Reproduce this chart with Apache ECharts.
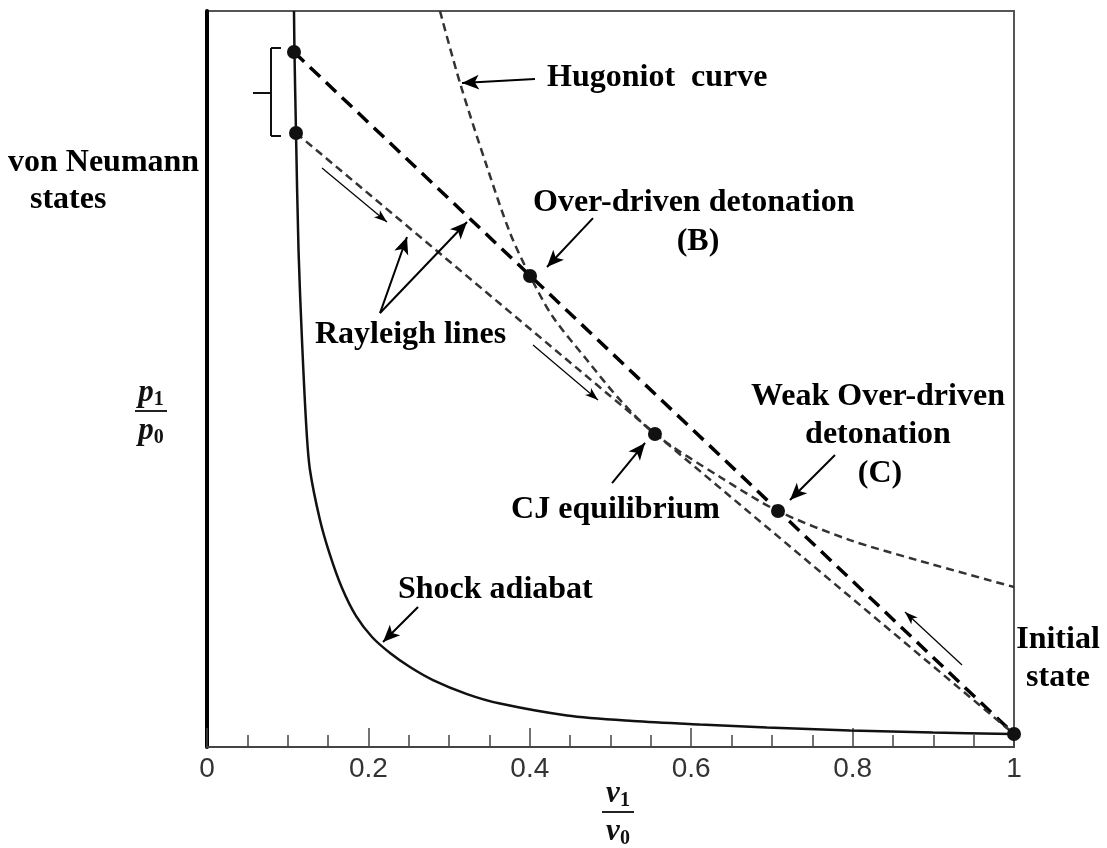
<!DOCTYPE html>
<html>
<head>
<meta charset="utf-8">
<script src="https://cdn.jsdelivr.net/npm/echarts@6/dist/echarts.min.js"></script>
<style>
html,body{margin:0;padding:0;background:#fff;}
#c{width:1107px;height:848px;}
</style>
</head>
<body>
<div id="c"></div>
<script>
// ---- data (v1/v0, p1/p0) ----
const xTickValues = [0, 0.2, 0.4, 0.6, 0.8, 1];
const shockAdiabat = [
  [0.1078,52.0],[0.1084,49.10],[0.1103,43.38],[0.1134,35.11],[0.1177,28.76],
  [0.1233,22.40],[0.1276,19.57],[0.1400,16.04],[0.1524,13.57],[0.1673,11.23],
  [0.1846,9.26],[0.2045,7.77],[0.2268,6.64],[0.2515,5.65],[0.2800,4.73],
  [0.3222,3.74],[0.3631,3.07],[0.4461,2.23],[0.5279,1.84],[0.6109,1.59],
  [0.6939,1.38],[0.7968,1.17],[0.8996,1.02],[0.9975,0.92]
];
const hugoniotCurve = [
  [0.2887,52.0],[0.3135,46.91],[0.3470,40.98],[0.3755,36.32],[0.4003,33.28],
  [0.4287,30.38],[0.4709,27.34],[0.5118,24.52],[0.5551,22.11],[0.6357,19.08],
  [0.7076,16.67],[0.7968,14.62],[0.8798,13.21],[1.0,11.30]
];
const vonNeumannHigh = [0.1078, 49.10];
const vonNeumannLow  = [0.1103, 43.38];
const overDrivenB    = [0.4003, 33.28];
const cjPoint        = [0.5551, 22.11];
const weakC          = [0.7076, 16.67];
const initialState   = [1.0, 0.92];
const rayleighStrong = [vonNeumannHigh, initialState];
const rayleighCJ     = [vonNeumannLow, initialState];
const statePoints = [vonNeumannHigh, vonNeumannLow, overDrivenB, cjPoint, weakC, initialState];

// annotation arrows [tail, head] in data units
const boldArrows = [
  [[-0.0186,42.04],[0.0508,45.85]],
  [[0.4064,47.19],[0.3160,46.91]],
  [[0.4783,37.37],[0.4213,33.91]],
  [[0.2144,30.66],[0.2478,36.03]],
  [[0.2144,30.66],[0.3222,37.09]],
  [[0.5019,18.65],[0.5428,21.48]],
  [[0.7782,20.63],[0.7224,17.45]],
  [[0.2615,9.89],[0.2181,7.42]],
  [[1.0545,3.82],[1.0112,1.34]]
];
const flowArrows = [
  [[0.1425,40.91],[0.2230,37.09]],
  [[0.4040,28.40],[0.4845,24.52]],
  [[0.9356,5.79],[0.8649,9.54]]
];
const bracketSegments = [
  [[0.0917,49.39],[0.0793,49.39]],
  [[0.0793,49.39],[0.0793,43.17]],
  [[0.0793,43.17],[0.0917,43.17]],
  [[0.0570,46.21],[0.0793,46.21]]
];

const labelFont = 'bold 32px "Liberation Serif", "Times New Roman", serif';
const annotations = [
  {t:'Hugoniot  curve', x:547, y:78, a:'left'},
  {t:'von Neumann', x:8, y:163, a:'left'},
  {t:'states', x:30, y:200, a:'left'},
  {t:'Over-driven detonation', x:533, y:203, a:'left'},
  {t:'(B)', x:698, y:242, a:'center'},
  {t:'Rayleigh lines', x:315, y:335, a:'left'},
  {t:'Weak Over-driven', x:878, y:397, a:'center'},
  {t:'detonation', x:878, y:435, a:'center'},
  {t:'(C)', x:880, y:474, a:'center'},
  {t:'CJ equilibrium', x:720, y:510, a:'right'},
  {t:'Shock adiabat', x:398, y:590, a:'left'},
  {t:'Initial', x:1058, y:640, a:'center'},
  {t:'state', x:1058, y:678, a:'center'}
];

function segs(list, arrow, size) {
  return list.map(s => [
    {coord: s[0], symbol: 'none'},
    {coord: s[1], symbol: arrow ? 'arrow' : 'none', symbolSize: size}
  ]);
}

const mathRich = {
  v: {font: 'bold italic 31px "Liberation Serif", serif', fill: '#111'},
  s: {font: 'bold 20px "Liberation Serif", serif', fill: '#111', verticalAlign: 'bottom', padding:[14,0,0,0]}
};
function frac(cx, top, letter, bar) {
  return [
    {type:'text', x:cx, y:top, style:{text:'{v|'+letter+'}{s|1}', rich:mathRich, align:'center', verticalAlign:'middle'}},
    {type:'line', shape:{x1:cx-bar, y1:top+18, x2:cx+bar, y2:top+18}, style:{stroke:'#222', lineWidth:2}},
    {type:'text', x:cx, y:top+38, style:{text:'{v|'+letter+'}{s|0}', rich:mathRich, align:'center', verticalAlign:'middle'}}
  ];
}

const graphics = annotations.map(a => ({
  type:'text', x:a.x, y:a.y,
  style:{text:a.t, font:labelFont, fill:'#000', align:a.a, verticalAlign:'middle'}
})).concat(frac(618, 794, 'v', 16)).concat(frac(151, 393, 'p', 16));

const chart = echarts.init(document.getElementById('c'), null, {renderer:'canvas'});
chart.setOption({
  animation: false,
  backgroundColor: '#fff',
  grid: {left:207, right:93, top:11, bottom:101, show:true, borderColor:'#555', borderWidth:2, backgroundColor:'transparent'},
  xAxis: {
    type:'value', min:0, max:1, interval:0.2,
    axisLine:{show:true, onZero:false, lineStyle:{color:'#444', width:2}},
    axisTick:{show:true, inside:true, length:19, lineStyle:{color:'#444', width:1.5}},
    minorTick:{show:true, splitNumber:4, length:12, lineStyle:{color:'#444', width:1.5}},
    splitLine:{show:false},
    axisLabel:{margin:8, color:'#333', fontSize:28, fontFamily:'"Liberation Sans", Arial, sans-serif',
      formatter: v => (xTickValues.indexOf(Math.round(v*10)/10) >= 0 ? String(Math.round(v*10)/10) : '')}
  },
  yAxis: {
    type:'value', min:0, max:52,
    axisLine:{show:true, onZero:false, lineStyle:{color:'#000', width:4}},
    axisTick:{show:false}, axisLabel:{show:false}, splitLine:{show:false}
  },
  series: [
    {name:'Shock adiabat', type:'line', data:shockAdiabat, smooth:0.3, showSymbol:false, symbol:'none',
      lineStyle:{color:'#111', width:2.5}, z:3},
    {name:'Hugoniot curve', type:'line', data:hugoniotCurve, smooth:0.3, showSymbol:false, symbol:'none',
      lineStyle:{color:'#333', width:2.5, type:[8,5]}, z:3},
    {name:'Rayleigh strong', type:'line', data:rayleighStrong, showSymbol:false, symbol:'none',
      lineStyle:{color:'#000', width:3.5, type:[14,8]}, z:4},
    {name:'Rayleigh CJ', type:'line', data:rayleighCJ, showSymbol:false, symbol:'none',
      lineStyle:{color:'#333', width:2.5, type:[8,5]}, z:4},
    {name:'States', type:'scatter', data:statePoints, symbol:'circle', symbolSize:14,
      itemStyle:{color:'#111', opacity:1}, z:6, clip:false},
    {name:'arrows', type:'line', data:[], clip:false, z:7,
      markLine:{silent:true, animation:false, label:{show:false}, symbolSize:[11,17],
        lineStyle:{type:'solid', color:'#000', width:2}, data:segs(boldArrows, true, [11,17])}},
    {name:'flow', type:'line', data:[], clip:false, z:7,
      markLine:{silent:true, animation:false, label:{show:false}, symbolSize:[7,13],
        lineStyle:{type:'solid', color:'#000', width:1.2}, data:segs(flowArrows, true, [7,13])}},
    {name:'bracket', type:'line', data:[], clip:false, z:7,
      markLine:{silent:true, animation:false, label:{show:false}, symbol:['none','none'],
        lineStyle:{type:'solid', color:'#111', width:2}, data:segs(bracketSegments, false, 0)}}
  ],
  graphic: graphics
});
</script>
</body>
</html>
